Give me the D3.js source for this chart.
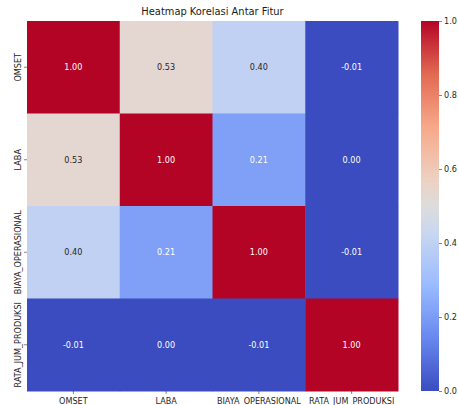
<!DOCTYPE html>
<html>
<head>
<meta charset="utf-8">
<script src="https://cdn.jsdelivr.net/npm/d3@7"></script>
<style>
body{margin:0;background:#fff}
svg{font-family:"DejaVu Sans",sans-serif}
</style>
</head>
<body>
<div id="chart"></div>
<script>
"use strict"
var features=["OMSET","LABA","BIAYA_OPERASIONAL","RATA_JUM_PRODUKSI"]
var rowOmset=[1.00,0.53,0.40,-0.01]
var rowLaba=[0.53,1.00,0.21,0.00]
var rowBiaya=[0.40,0.21,1.00,-0.01]
var rowRata=[-0.01,0.00,-0.01,1.00]
var cbarTicks=[0,0.2,0.4,0.6,0.8,1.0]
// coolwarm stops
var cwStops=[0,1/7,2/7,3/7,0.5,4/7,5/7,6/7,1]
var cwColors=["#3b4cc0","#6788ee","#9abbff","#c9d7f0","#dddcdc","#edd1c2","#f7a889","#e26952","#b40426"]

var rows=[rowOmset,rowLaba,rowBiaya,rowRata]
var W=458,H=405
var m={left:27,top:21,right:398,bottom:391}
var fs=8.1

var svg=d3.select('#chart').append('svg').attr('width',W).attr('height',H)

var x=d3.scaleBand().domain(features).range([m.left,m.right])
var y=d3.scaleBand().domain(features).range([m.top,m.bottom])
var color=d3.scaleLinear().domain(cwStops).range(cwColors).interpolate(d3.interpolateRgb).clamp(true)

var cells=[]
rows.forEach(function(r,i){
  r.forEach(function(v,j){cells.push({row:features[i],col:features[j],v:v})})
})

svg.selectAll('rect.cell').data(cells).enter().append('rect')
  .attr('x',function(d){return x(d.col)})
  .attr('y',function(d){return y(d.row)})
  .attr('width',x.bandwidth()+0.5)
  .attr('height',y.bandwidth()+0.5)
  .attr('fill',function(d){return color(d.v)})

svg.selectAll('text.ann').data(cells).enter().append('text')
  .attr('x',function(d){return x(d.col)+x.bandwidth()/2})
  .attr('y',function(d){return y(d.row)+y.bandwidth()/2})
  .attr('text-anchor','middle').attr('dy','0.35em')
  .attr('font-size',fs)
  .attr('fill',function(d){
    var c=d3.rgb(color(d.v))
    var l=(0.299*c.r+0.587*c.g+0.114*c.b)/255
    return l>0.74?'#262626':'#ffffff'})
  .text(function(d){return d3.format('.2f')(d.v).replace('−','-')})

// axes
var xAxis=svg.append('g').attr('transform','translate(0,'+m.bottom+')')
  .call(d3.axisBottom(x).tickSize(3).tickPadding(4))
xAxis.select('.domain').remove()
xAxis.selectAll('text').attr('font-size',fs).attr('fill','#262626').attr('font-family','DejaVu Sans')
xAxis.selectAll('line').attr('stroke','#333').attr('stroke-width',0.6)

var yAxis=svg.append('g').attr('transform','translate('+m.left+',0)')
  .call(d3.axisLeft(y).tickSize(3).tickPadding(3))
yAxis.select('.domain').remove()
yAxis.selectAll('line').attr('stroke','#333').attr('stroke-width',0.6)
yAxis.selectAll('text').attr('font-size',fs).attr('fill','#262626').attr('font-family','DejaVu Sans')
  .attr('text-anchor','middle')
  .attr('x',0).attr('y',0).attr('dx',0).attr('dy',0)
  .attr('transform','translate(-6.5,0) rotate(-90)')

// title
svg.append('text').attr('x',(m.left+m.right)/2).attr('y',15)
  .attr('text-anchor','middle').attr('font-size',9.9).attr('fill','#1a1a1a')
  .text('Heatmap Korelasi Antar Fitur')

// colorbar
var cb={x:421,w:18}
var cy=d3.scaleLinear().domain([0,1]).range([m.bottom,m.top])
var defs=svg.append('defs')
var grad=defs.append('linearGradient').attr('id','cw').attr('x1',0).attr('y1',1).attr('x2',0).attr('y2',0)
grad.selectAll('stop').data(cwStops).enter().append('stop')
  .attr('offset',function(d){return d}).attr('stop-color',function(d,i){return cwColors[i]})
svg.append('rect').attr('x',cb.x).attr('y',m.top).attr('width',cb.w).attr('height',m.bottom-m.top).attr('fill','url(#cw)')
var cAxis=svg.append('g').attr('transform','translate('+(cb.x+cb.w)+',0)')
  .call(d3.axisRight(cy).tickValues(cbarTicks).tickFormat(d3.format('.1f')).tickSize(3).tickPadding(2))
cAxis.select('.domain').remove()
cAxis.selectAll('line').attr('stroke','#333').attr('stroke-width',0.6)
cAxis.selectAll('text').attr('font-size',fs).attr('fill','#262626').attr('font-family','DejaVu Sans')
</script>
</body>
</html>
